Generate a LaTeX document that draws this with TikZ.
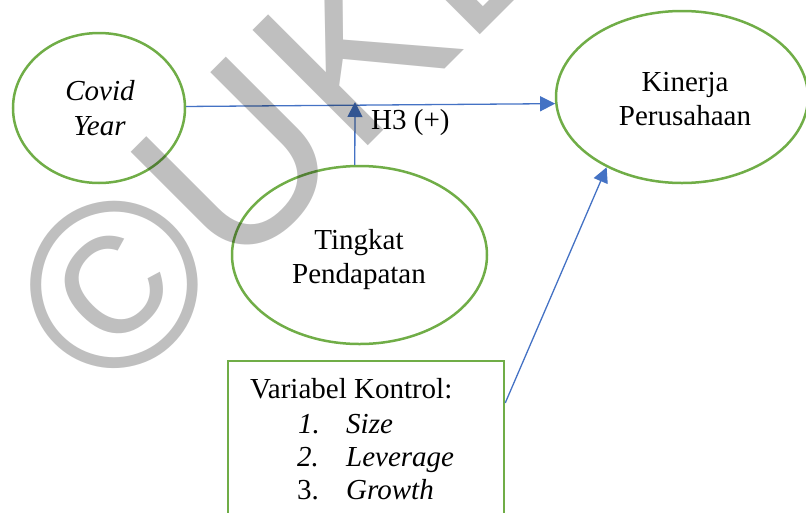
\documentclass[tikz,border=0pt]{standalone}
\usepackage{fontspec}
\setmainfont{Liberation Serif}
\newfontfamily\wmfont{Liberation Sans}
\usetikzlibrary{shapes.geometric,arrows.meta,calc}
\definecolor{leaf}{HTML}{70AD47}
\definecolor{linkblue}{HTML}{4472C4}
\begin{document}
\begin{tikzpicture}[x=1pt,y=-1pt,
  construct/.style={ellipse, draw=leaf, line width=2.5pt, inner sep=0pt},
  txt/.style={anchor=base, inner sep=0pt, font=\fontsize{29}{34}\selectfont},
  txtl/.style={anchor=base west, inner sep=0pt, font=\fontsize{29}{34}\selectfont},
  link/.style={draw=linkblue, line width=1.3pt, -{Triangle[length=15pt,width=15pt]}},
]
\useasboundingbox (0,0) rectangle (806,512);
\clip (0,0) rectangle (806,512);

% constructs
\node[construct, minimum width=172pt, minimum height=150pt] (cy) at (99,108) {};
\node[construct, minimum width=252pt, minimum height=172pt] (kp) at (682,97) {};
\node[construct, minimum width=255pt, minimum height=178pt] (tp) at (359.5,255) {};
\node[draw=leaf, line width=2.5pt, minimum width=276pt, minimum height=169pt, inner sep=0pt] (kontrol) at (366,445.5) {};

% labels
\node[txt] (covid) at (100,100) {\itshape Covid};
\node[txt] (year) at (99.5,135) {\itshape Year};
\node[txt] (kin) at (685,91) {Kinerja};
\node[txt] (per) at (685,125) {Perusahaan};
\node[txt] (ting) at (359,249) {Tingkat};
\node[txt] (pend) at (359,283) {Pendapatan};
\node[txtl] (h3) at (371,129) {H3 (+)};
\node[txtl] (vk) at (250,398) {Variabel Kontrol:};
\node[txtl] (n1) at (298,433) {\itshape 1.};
\node[txtl] (i1) at (346,433) {\itshape Size};
\node[txtl] (n2) at (297,466) {\itshape 2.};
\node[txtl] (i2) at (346,466) {\itshape Leverage};
\node[txtl] (n3) at (297,499) {3.};
\node[txtl] (i3) at (346,499) {\itshape Growth};

% paths
\draw[link] (cy.1) -- (kp.183);
\coordinate (h3tip) at (355,102);
\draw[link] (tp.93) -- (h3tip);
\draw[link] (kontrol.17) -- (kp.223);

% watermark
\node[rotate=45, anchor=base west, inner sep=0pt, text opacity=0.25,
      font=\wmfont\fontsize{237}{237}\selectfont] (wm) at (110.2,404.5) {©UKDW};
\end{tikzpicture}
\end{document}
